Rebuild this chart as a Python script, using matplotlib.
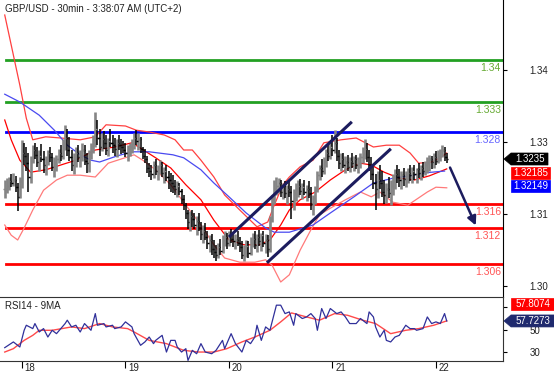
import numpy as np
import matplotlib.pyplot as plt
from matplotlib.patches import Polygon
from matplotlib.transforms import IdentityTransform, blended_transform_factory

plt.rcParams['font.family'] = ['Liberation Sans', 'DejaVu Sans']

# GBP/USD 30min bars, values in pips above 1.3000
bar_high = [200, 203, 205, 210, 212, 207, 195, 205, 267, 262,
            255, 245, 240, 258, 262, 255, 250, 260, 248, 240,
            250, 255, 245, 238, 242, 252, 258, 268, 292, 285,
            272, 250, 245, 255, 258, 250, 262, 258, 245, 250,
            262, 275, 313, 300, 285, 278, 282, 275, 270, 285,
            275, 270, 268, 275, 268, 265, 262, 258, 262, 268,
            278, 283, 278, 272, 255, 252, 240, 228, 225, 232,
            235, 225, 233, 230, 222, 225, 215, 212, 208, 200,
            198, 195, 185, 175, 162, 150, 148, 150, 145, 140,
            145, 130, 125, 128, 115, 108, 110, 100, 92, 95,
            102, 108, 115, 112, 115, 118, 112, 110, 115, 105,
            98, 92, 100, 98, 105, 112, 115, 110, 117, 112,
            115, 110, 108, 140, 175, 200, 205, 203, 200, 195,
            198, 192, 200, 190, 185, 195, 200, 202, 195, 200,
            192, 198, 188, 175, 190, 215, 225, 235, 238, 252,
            258, 265, 275, 283, 270, 250, 245, 245, 240, 242,
            238, 245, 240, 242, 238, 245, 255, 268, 262, 250,
            238, 222, 210, 215, 225, 215, 200, 195, 205, 200,
            210, 218, 225, 218, 215, 220, 215, 220, 225, 222,
            225, 220, 228, 225, 230, 232, 238, 242, 240, 245,
            248, 250, 252, 258, 255, 245]
bar_low = [170, 178, 183, 188, 190, 180, 148, 170, 187, 225,
           215, 180, 195, 228, 235, 222, 215, 230, 212, 208,
           225, 230, 215, 205, 215, 228, 232, 235, 250, 240,
           232, 215, 210, 222, 230, 222, 232, 225, 212, 213,
           235, 245, 255, 258, 240, 248, 252, 242, 240, 255,
           245, 240, 238, 250, 243, 245, 238, 232, 240, 245,
           252, 258, 250, 245, 235, 228, 212, 205, 200, 203,
           208, 200, 210, 205, 195, 198, 185, 180, 178, 175,
           172, 175, 160, 150, 135, 118, 115, 122, 118, 108,
           115, 100, 95, 100, 85, 80, 75, 70, 65, 70,
           75, 78, 90, 85, 90, 95, 88, 85, 90, 80,
           68, 65, 72, 70, 75, 88, 85, 80, 90, 82,
           88, 78, 72, 80, 130, 160, 175, 178, 172, 168,
           170, 160, 172, 135, 150, 165, 172, 175, 168, 175,
           165, 170, 150, 142, 160, 180, 200, 205, 210, 222,
           232, 235, 240, 245, 232, 218, 215, 220, 212, 215,
           213, 220, 215, 218, 212, 220, 228, 235, 230, 215,
           200, 185, 150, 170, 185, 172, 160, 162, 170, 158,
           175, 185, 195, 188, 185, 190, 188, 195, 198, 195,
           200, 195, 203, 200, 205, 208, 212, 215, 218, 220,
           225, 228, 232, 238, 232, 228]
bar_close = [185, 190, 198, 195, 200, 188, 172, 198, 245, 240,
             228, 205, 232, 250, 242, 230, 240, 235, 225, 232,
             245, 238, 222, 228, 235, 245, 240, 262, 270, 250,
             238, 225, 230, 245, 238, 240, 250, 232, 228, 242,
             255, 268, 285, 270, 255, 268, 262, 250, 265, 262,
             258, 252, 262, 258, 255, 250, 245, 252, 255, 262,
             270, 265, 268, 252, 240, 235, 220, 215, 210, 225,
             215, 220, 225, 212, 215, 205, 200, 195, 190, 185,
             190, 182, 168, 158, 145, 130, 140, 135, 125, 132,
             120, 110, 115, 105, 95, 100, 85, 80, 75, 88,
             82, 100, 105, 95, 108, 102, 98, 100, 95, 88,
             75, 80, 90, 78, 95, 102, 92, 105, 98, 108,
             95, 100, 85, 135, 168, 185, 190, 195, 180, 190,
             178, 185, 180, 165, 178, 185, 190, 182, 188, 180,
             185, 178, 160, 170, 185, 208, 220, 215, 232, 245,
             240, 255, 250, 262, 240, 228, 235, 225, 230, 222,
             232, 228, 235, 225, 230, 238, 245, 252, 238, 225,
             210, 195, 185, 200, 195, 180, 175, 185, 178, 190,
             198, 210, 205, 200, 208, 202, 210, 212, 208, 215,
             210, 218, 212, 220, 215, 225, 228, 235, 230, 238,
             232, 240, 248, 250, 238, 235]

# Bollinger bands and moving average (bar index, pips above 1.3000)
upper_idx = [0, 3, 7, 10, 13, 19, 26, 35, 42, 47, 56, 61, 67, 74, 79, 83, 87, 91, 97, 102,
             109, 117, 122, 125, 129, 132, 137, 143, 148, 156, 163, 171, 177, 183, 188, 192, 198, 202, 205]
upper_pips = [475, 425, 358, 303, 267, 272, 270, 267, 272, 292, 290, 283, 280, 275, 267, 250, 250, 233, 205, 175,
              150, 122, 130, 158, 192, 205, 222, 233, 262, 267, 270, 255, 258, 258, 245, 228, 230, 237, 245]
mid_idx = [0, 3, 7, 12, 19, 26, 33, 42, 51, 59, 63, 70, 77, 84, 91, 97, 104, 111, 118, 123,
           128, 132, 137, 144, 151, 158, 165, 170, 176, 183, 190, 197, 205]
mid_pips = [300, 267, 233, 213, 217, 225, 233, 250, 255, 262, 253, 237, 220, 192, 167, 133, 100, 92, 92, 100,
            125, 150, 167, 180, 200, 217, 228, 225, 213, 203, 200, 207, 218.5]
lower_idx = [0, 3, 6, 9, 13, 18, 24, 29, 35, 42, 48, 60, 64, 70, 77, 84, 91, 97, 102, 109,
             116, 121, 124, 128, 132, 137, 142, 146, 151, 158, 165, 170, 174, 180, 187, 189, 196, 200, 205]
lower_pips = [125, 108, 100, 120, 150, 183, 200, 208, 208, 205, 228, 242, 233, 217, 192, 158, 125, 92, 70, 63,
              63, 67, 58, 30, 42, 83, 117, 142, 153, 167, 180, 172, 180, 163, 158, 163, 180, 188, 187]
ma_idx = [0, 7, 16, 23, 29, 35, 40, 44, 52, 59, 67, 78, 83, 91, 97, 104, 112, 121, 125, 132,
          143, 151, 162, 171, 180, 188, 195, 204]
ma_pips = [343, 330, 308, 283, 258, 242, 233, 230, 240, 247, 247, 242, 237, 217, 195, 172, 145, 120, 113, 113,
           125, 145, 172, 195, 203, 207, 212, 214.9]

levels = [1.340, 1.333, 1.328, 1.316, 1.312, 1.306]
level_text = ['1.34', '1.333', '1.328', '1.316', '1.312', '1.306']

chan_up_idx, chan_up_val = [104, 161], [1.3105, 1.3297]
chan_lo_idx, chan_lo_val = [121.6, 179.1], [1.3062, 1.3252]
arrow_idx, arrow_val = [206, 219], [1.3225, 1.3120]

price_ticks = [1.3024, 1.3144, 1.3264, 1.3384]
day_idx = [8, 56, 104, 152, 200]
day_text = ['18', '19', '20', '21', '22']

# RSI14 and its 9MA
rsi_idx = [0, 4, 7, 9, 10, 13, 14, 16, 18, 20, 22, 24, 26, 28, 29, 31, 33, 35, 37, 40,
           42, 43, 46, 47, 50, 51, 54, 56, 59, 60, 63, 65, 67, 69, 70, 73, 75, 77, 79, 80,
           82, 84, 85, 87, 89, 91, 93, 96, 98, 101, 102, 105, 107, 110, 112, 114, 116, 117, 119, 121,
           123, 126, 128, 130, 132, 134, 135, 138, 140, 142, 144, 145, 147, 149, 151, 154, 156, 158, 160, 163,
           165, 168, 169, 171, 172, 174, 176, 177, 179, 181, 183, 186, 188, 190, 191, 194, 196, 198, 200, 202,
           204, 205]
rsi_val = [33.9, 39.0, 34.5, 49.4, 53.9, 50.9, 55.4, 47.9, 50.9, 43.4, 49.4, 46.4, 50.9, 55.4, 58.4, 52.4, 53.9, 47.9, 55.4, 49.4,
           64.3, 53.9, 55.4, 52.4, 53.9, 50.9, 52.4, 56.9, 52.4, 46.4, 36.0, 39.0, 43.4, 37.5, 40.4, 44.9, 30.0, 40.4, 40.4, 34.5,
           30.0, 33.0, 22.5, 31.5, 28.5, 37.5, 30.0, 28.5, 31.5, 40.4, 33.0, 46.4, 37.5, 30.0, 40.4, 37.5, 43.4, 53.9, 40.4, 52.4,
           49.4, 71.8, 71.8, 64.3, 65.8, 53.9, 64.3, 59.9, 61.3, 64.3, 59.9, 49.4, 68.8, 59.9, 68.8, 64.3, 65.8, 61.3, 55.4, 55.4,
           59.9, 55.4, 65.8, 61.3, 52.4, 43.4, 49.4, 40.4, 39.0, 43.4, 44.9, 53.9, 50.9, 50.9, 49.4, 50.9, 61.3, 55.4, 56.9, 55.4,
           64.3, 57.7]
rsi_ma_idx = [0, 4, 9, 13, 16, 22, 31, 37, 44, 50, 57, 60, 67, 75, 83, 90, 97, 103, 110, 116,
              123, 128, 133, 140, 146, 153, 159, 166, 172, 179, 186, 192, 199, 205]
rsi_ma_val = [30.0, 33.0, 40.4, 44.9, 49.4, 49.4, 52.4, 50.9, 55.4, 52.4, 50.9, 47.9, 40.4, 37.5, 31.5, 30.0, 30.0, 33.0, 39.0, 43.4,
              49.4, 56.9, 64.9, 61.3, 58.4, 64.3, 62.8, 58.4, 55.4, 46.4, 49.4, 50.9, 53.9, 57.8]
rsi_ticks = [30, 50, 70]
rsi_tick_text = ['30', '50', '']   # the 70 label sits under the MA tag

last_price, mid_last, ma_last = 1.3235, 1.32185, 1.32149
rsi_last, rsi_ma_last = 57.7273, 57.8074

pip = 1e-4
hi = 1.30 + np.array(bar_high) * pip
lo = 1.30 + np.array(bar_low) * pip
cl = 1.30 + np.array(bar_close) * pip
op = np.r_[cl[0], cl[:-1]]
x = np.arange(len(cl))

W, H = 554, 372
fig = plt.figure(figsize=(W / 100, H / 100), dpi=100)
def box(left, top, w, h):
    return [left / W, 1 - (top + h) / H, w / W, h / H]
ax = fig.add_axes(box(0, 0, 503, 297))
rax = fig.add_axes(box(0, 297, 503, 64))
xlim = (-2.2, 231.1)

# levels
for lv, txt in zip(levels, level_text):
    c = '#22a022' if lv > 1.33 else ('#0000ff' if lv > 1.32 else '#ff0000')
    tc = '#66aa33' if lv > 1.33 else ('#6666ff' if lv > 1.32 else '#ff5555')
    ax.axhline(lv, xmin=0.012, xmax=1, color=c, lw=2, zorder=2)
    ax.annotate(txt, (1, lv), xycoords=('axes fraction', 'data'), xytext=(-1.5, -6),
                textcoords='offset points', ha='right', va='center', fontsize=7.5, color=tc)

# bands / MA
ax.plot(np.array(upper_idx), 1.30 + np.array(upper_pips) * pip, color='#ff4040', lw=0.9, zorder=3)
ax.plot(np.array(mid_idx), 1.30 + np.array(mid_pips) * pip, color='#ff0000', lw=0.9, zorder=3)
ax.plot(np.array(lower_idx), 1.30 + np.array(lower_pips) * pip, color='#ff7a7a', lw=0.9, zorder=3)
ax.plot(np.array(ma_idx), 1.30 + np.array(ma_pips) * pip, color='#4a4af0', lw=0.9, zorder=3)

# bars
up = cl >= op
cols = np.where(up, '#858585', '#000000')
ax.vlines(x, lo, hi, colors=cols, lw=np.where(up, 1.9, 1.1), zorder=4)
ax.hlines(op, x - 0.6, x, colors=cols, lw=1.0, zorder=4)
ax.hlines(cl, x, x + 0.6, colors=cols, lw=1.0, zorder=4)

navy = '#1c1c5e'
ax.plot(chan_up_idx, chan_up_val, color=navy, lw=2.2, zorder=5, solid_capstyle='butt')
ax.plot(chan_lo_idx, chan_lo_val, color=navy, lw=2.2, zorder=5, solid_capstyle='butt')
ax.annotate('', xy=(arrow_idx[1], arrow_val[1]), xytext=(arrow_idx[0], arrow_val[0]),
            arrowprops=dict(arrowstyle='-|>', color=navy, lw=1.8, mutation_scale=13), zorder=5)

ax.set_xlim(*xlim)
ax.set_ylim(1.3005, 1.35)
ax.set_xticks([])
ax.yaxis.tick_right()
ax.set_yticks(price_ticks)
ax.set_yticklabels(['%.2f' % t for t in price_ticks])
ax.tick_params(axis='y', direction='out', length=3, width=0.8, pad=16, labelsize=7, labelcolor='#222222')
for s in ['top', 'left', 'bottom']:
    ax.spines[s].set_visible(False)
ax.spines['right'].set_color('black')

# RSI panel
rax.plot(rsi_ma_idx, rsi_ma_val, color='#ff4a4a', lw=1.0, zorder=3)
rax.plot(rsi_idx, rsi_val, color='#30309a', lw=0.9, zorder=4)
rax.set_xlim(*xlim)
rax.set_ylim(22, 79.1)
rax.yaxis.tick_right()
rax.set_yticks(rsi_ticks)
rax.set_yticklabels(rsi_tick_text)
rax.tick_params(axis='y', direction='out', length=3, width=0.8, pad=16, labelsize=7, labelcolor='#222222')
rax.set_xticks(day_idx)
rax.set_xticklabels([])
rax.tick_params(axis='x', direction='out', length=5, width=0.8)
tr = blended_transform_factory(rax.transData, rax.transAxes)
for d, t in zip(day_idx, day_text):
    rax.annotate(t, (d, 0), xycoords=tr, xytext=(2, -1.5), textcoords='offset points',
                 ha='left', va='top', fontsize=7, color='#222222')
rax.spines['left'].set_visible(False)
for s in ['top', 'bottom', 'right']:
    rax.spines[s].set_color('#333333')
rax.text(5 / 503, 0.86, 'RSI14 - 9MA', transform=rax.transAxes, fontsize=7, color='#222222', va='center')

fig.text(5 / W, 1 - 9 / H, 'GBP/USD - 30min - 3:38:07 AM (UTC+2)', fontsize=7, color='#222222', va='center')

# value tags on the right axis
def tag(yd, text, fc, arrow, right=550, h=12):
    pts = [(511, yd + h / 2), (right, yd + h / 2), (right, yd - h / 2), (511, yd - h / 2)]
    if arrow:
        pts = [(504, yd)] + pts
    fig.add_artist(Polygon(pts, closed=True, fc=fc, ec=fc, lw=0.5, transform=IdentityTransform()))
    fig.text((511 + right) / 2 + 0.5, yd, text, transform=IdentityTransform(), color='white',
             fontsize=7, ha='center', va='center')

y0 = ax.transData.transform((0, last_price))[1]
tag(y0, '1.3235', '#000000', True, right=548)
tag(y0 - 13.5, '%.5f' % mid_last, '#ff0000', False)
tag(y0 - 26.5, '%.5f' % ma_last, '#0000ff', False)
yr = rax.transData.transform((0, rsi_last))[1]
tag(yr, '%.4f' % rsi_last, '#1f2a6e', True, right=554)
tag(yr + 16.5, '%.4f' % rsi_ma_last, '#ff0000', False, right=554)

fig.savefig('out.png', dpi=100)
